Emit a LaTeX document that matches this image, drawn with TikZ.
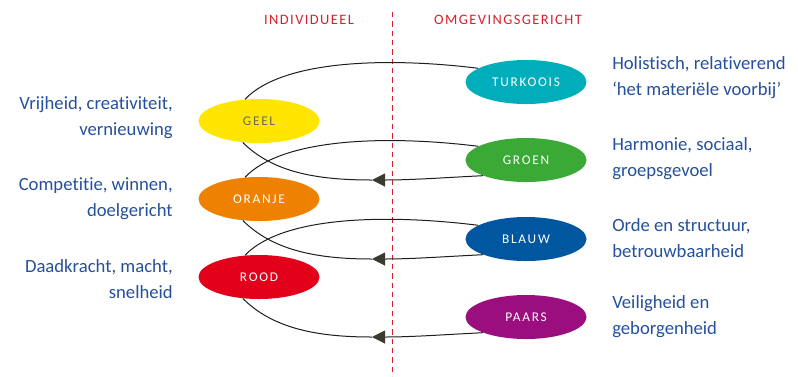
\documentclass[tikz,border=0pt]{standalone}
\usepackage{fontspec}
\setmainfont{Carlito}[Ligatures={NoCommon,NoDiscretionary}]
\newfontfamily\memefont[LetterSpace=13]{Carlito}
\newfontfamily\headfont[LetterSpace=10]{Carlito}
\usetikzlibrary{arrows.meta,shapes.geometric}
\definecolor{txtblue}{HTML}{25509B}
\definecolor{headred}{HTML}{D7202C}
\definecolor{cgeel}{HTML}{FFE500}
\definecolor{cturk}{HTML}{00AEBB}
\definecolor{cgroen}{HTML}{3AA935}
\definecolor{coranje}{HTML}{EE8100}
\definecolor{cblauw}{HTML}{00569F}
\definecolor{crood}{HTML}{E2001A}
\definecolor{cpaars}{HTML}{9A0E7E}
\definecolor{geeltxt}{HTML}{6E6A55}
\definecolor{arrowgray}{HTML}{3A3A30}
\definecolor{linegray}{HTML}{1E1E1E}
\begin{document}
\begin{tikzpicture}[x=0.75pt,y=-0.75pt,
  meme/.style={ellipse,minimum width=90.75pt,minimum height=33pt,inner sep=0pt,
    font=\memefont\fontsize{10}{11}\selectfont,text=white},
  desc/.style={text=txtblue,font=\fontsize{14}{19.5}\selectfont,inner sep=0pt},
  head/.style={text=headred,font=\headfont\fontsize{10.8}{12}\selectfont,inner sep=0pt},
  conn/.style={draw=linegray,line width=0.75pt},
  tip/.style={-{Triangle[length=9.75pt,width=9.75pt,fill=arrowgray,color=arrowgray]}}]
\useasboundingbox (0,0) rectangle (798,376);
% dividing line
\coordinate (dtop) at (392,12);
\coordinate (dbot) at (392,376);
\draw[headred,line width=0.75pt,dash pattern=on 4pt off 3pt] (dtop) -- (dbot);
\node[head] (hind) at (309,20) {INDIVIDUEEL};
\node[head] (homg) at (508,20) {OMGEVINGSGERICHT};
% ellipses
\node[meme,fill=cgeel,text=geeltxt] (geel) at (259,121) {GEEL};
\node[meme,fill=cturk] (turk) at (526,82) {TURKOOIS};
\node[meme,fill=cgroen] (groen) at (526,160) {GROEN};
\node[meme,fill=coranje] (oranje) at (259,199) {ORANJE};
\node[meme,fill=cblauw] (blauw) at (526,239) {BLAUW};
\node[meme,fill=crood] (rood) at (259,277) {ROOD};
\node[meme,fill=cpaars] (paars) at (526,317) {PAARS};
% arrow tip coordinates
\coordinate (ag) at (372,180);
\coordinate (ab) at (372,259);
\coordinate (ap) at (372,337);
% upper curves
\draw[conn] (geel.123) .. controls +(40,-42) and +(-80,-10) .. (turk.164);
\draw[conn] (oranje.123) .. controls +(40,-42) and +(-80,-10) .. (groen.164);
\draw[conn] (rood.123) .. controls +(40,-42) and +(-80,-10) .. (blauw.164);
% lower curves with arrows
\draw[conn,tip] (groen.200) .. controls +(-40,2) and +(40,0) .. (ag);
\draw[conn] (ag) .. controls +(-55,0) and +(30,30) .. (geel.233);
\draw[conn,tip] (blauw.200) .. controls +(-40,2) and +(40,0) .. (ab);
\draw[conn] (ab) .. controls +(-55,0) and +(30,30) .. (oranje.233);
\draw[conn,tip] (paars.200) .. controls +(-40,2) and +(40,0) .. (ap);
\draw[conn] (ap) .. controls +(-55,0) and +(30,30) .. (rood.233);
% descriptions left
\node[desc,anchor=east,align=right] (dgeel) at (173,118) {Vrijheid, creativiteit,\\vernieuwing};
\node[desc,anchor=east,align=right] (doranje) at (173,199) {Competitie, winnen,\\doelgericht};
\node[desc,anchor=east,align=right] (drood) at (173,279) {Daadkracht, macht,\\snelheid};
% descriptions right
\node[desc,anchor=west,align=left] (dturk) at (612,78) {Holistisch, relativerend\\‘het materiële voorbij’};
\node[desc,anchor=west,align=left] (dgroen) at (612,159) {Harmonie, sociaal,\\groepsgevoel};
\node[desc,anchor=west,align=left] (dblauw) at (612,238) {Orde en structuur,\\betrouwbaarheid};
\node[desc,anchor=west,align=left] (dpaars) at (612,317) {Veiligheid en\\geborgenheid};
\end{tikzpicture}
\end{document}
